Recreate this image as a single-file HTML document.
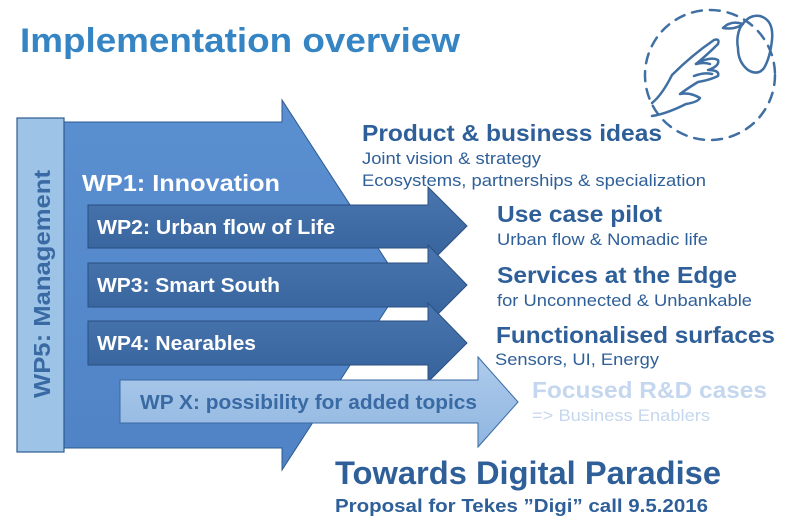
<!DOCTYPE html>
<html><head><meta charset="utf-8"><style>
body{margin:0;width:787px;height:524px;background:#fff;overflow:hidden;font-family:"Liberation Sans",sans-serif}
</style></head><body>
<svg width="787" height="524" viewBox="0 0 787 524" xmlns="http://www.w3.org/2000/svg" font-family="Liberation Sans, sans-serif">
<defs>
<linearGradient id="big" x1="0" y1="0" x2="0" y2="1"><stop offset="0" stop-color="#5a8fd0"/><stop offset="1" stop-color="#4f83c6"/></linearGradient>
<linearGradient id="wp" x1="0" y1="0" x2="0" y2="1"><stop offset="0" stop-color="#4a76b0"/><stop offset="1" stop-color="#36629b"/></linearGradient>
<linearGradient id="wx" x1="0" y1="0" x2="0" y2="1"><stop offset="0" stop-color="#aecbec"/><stop offset="1" stop-color="#8fb6e0"/></linearGradient>
</defs>
<text x="20" y="52" font-size="34" font-weight="bold" fill="#3584c4" textLength="440" lengthAdjust="spacingAndGlyphs">Implementation overview</text>
<!-- hand icon -->
<g fill="none" stroke="#3f6fa3" stroke-width="2.5" stroke-linecap="round" stroke-linejoin="round">
<circle cx="710" cy="75" r="65" stroke-dasharray="10 8"/>
<path d="M723 28 q8-8 20-4 q-8 6-20 4z"/>
<path d="M740 28 q8-14 20-12 q14 4 12 24 q-2 18 -8 28 q-6 8-16 2 q-10-8-10-22 q-2-10 2-20z"/>
<path d="M652 103 q10-8 20-28 q20-20 42-35 q6-2 4 4 q-10 10-22 20 q14-8 22-4 q2 6-10 10 q12 0 10 6 q-8 4-20 6 q-10 6-18 12 q10-2 20 4 q-2 4-14 6 q-20 10-34 12"/>
<path d="M696 64 q8-2 14 0 M694 76 q10-4 18-2"/>
</g>
<!-- big WP1 arrow -->
<polygon points="62,122 282,122 282,100 402,285 282,470 282,448 62,448" fill="url(#big)" stroke="#2f5a8f" stroke-width="1"/>
<!-- WP5 bar -->
<rect x="17" y="118" width="47" height="334" fill="#9dc3e6" stroke="#2f5a8f" stroke-width="1.2"/>
<text transform="translate(50,284) rotate(-90)" text-anchor="middle" font-size="23" font-weight="bold" fill="#3a6aa3" textLength="228" lengthAdjust="spacingAndGlyphs">WP5: Management</text>
<text x="82" y="191" font-size="23" font-weight="bold" fill="#fff" textLength="198" lengthAdjust="spacingAndGlyphs">WP1: Innovation</text>
<!-- WP2-4 -->
<polygon points="88,205 428,205 428,187 467,226 428,265 428,248 88,248" fill="url(#wp)" stroke="#2a4f80"/>
<polygon points="88,263 428,263 428,245 467,285 428,324 428,307 88,307" fill="url(#wp)" stroke="#2a4f80"/>
<polygon points="88,321 428,321 428,303 467,343 428,382 428,365 88,365" fill="url(#wp)" stroke="#2a4f80"/>
<text x="97" y="234" font-size="20" font-weight="bold" fill="#fff" textLength="238" lengthAdjust="spacingAndGlyphs">WP2: Urban flow of Life</text>
<text x="97" y="292" font-size="20" font-weight="bold" fill="#fff" textLength="183" lengthAdjust="spacingAndGlyphs">WP3: Smart South</text>
<text x="97" y="350" font-size="20" font-weight="bold" fill="#fff" textLength="159" lengthAdjust="spacingAndGlyphs">WP4: Nearables</text>
<!-- WPX -->
<polygon points="120,380 478,380 478,357 518,402 478,447 478,423 120,423" fill="url(#wx)" stroke="#3a6aa3"/>
<text x="140" y="409" font-size="20" font-weight="bold" fill="#3a6aa3" textLength="337" lengthAdjust="spacingAndGlyphs">WP X: possibility for added topics</text>
<!-- right texts -->
<g fill="#2f5f98" lengthAdjust="spacingAndGlyphs">
<text x="362" y="141" font-size="23" font-weight="bold" textLength="300" lengthAdjust="spacingAndGlyphs">Product &amp; business ideas</text>
<text x="362" y="164" font-size="16.5" textLength="179" lengthAdjust="spacingAndGlyphs">Joint vision &amp; strategy</text>
<text x="362" y="186" font-size="16.5" textLength="344" lengthAdjust="spacingAndGlyphs">Ecosystems, partnerships &amp; specialization</text>
<text x="497" y="222" font-size="23" font-weight="bold" textLength="165" lengthAdjust="spacingAndGlyphs">Use case pilot</text>
<text x="497" y="245" font-size="16.5" textLength="211" lengthAdjust="spacingAndGlyphs">Urban flow &amp; Nomadic life</text>
<text x="497" y="283" font-size="23" font-weight="bold" textLength="240" lengthAdjust="spacingAndGlyphs">Services at the Edge</text>
<text x="497" y="306" font-size="16.5" textLength="255" lengthAdjust="spacingAndGlyphs">for Unconnected &amp; Unbankable</text>
<text x="496" y="343" font-size="23" font-weight="bold" textLength="279" lengthAdjust="spacingAndGlyphs">Functionalised surfaces</text>
<text x="495" y="365" font-size="16.5" textLength="164" lengthAdjust="spacingAndGlyphs">Sensors, UI, Energy</text>
<text x="335" y="484" font-size="32" font-weight="bold" textLength="386" lengthAdjust="spacingAndGlyphs">Towards Digital Paradise</text>
<text x="335" y="512" font-size="18" font-weight="bold" textLength="373" lengthAdjust="spacingAndGlyphs">Proposal for Tekes ”Digi” call 9.5.2016</text>
</g>
<text x="532" y="398" font-size="23" font-weight="bold" fill="#c5d7ee" textLength="235" lengthAdjust="spacingAndGlyphs">Focused R&amp;D cases</text>
<text x="532" y="421" font-size="16.5" fill="#c5d7ee" textLength="178" lengthAdjust="spacingAndGlyphs">=&gt; Business Enablers</text>
</svg>
</body></html>
